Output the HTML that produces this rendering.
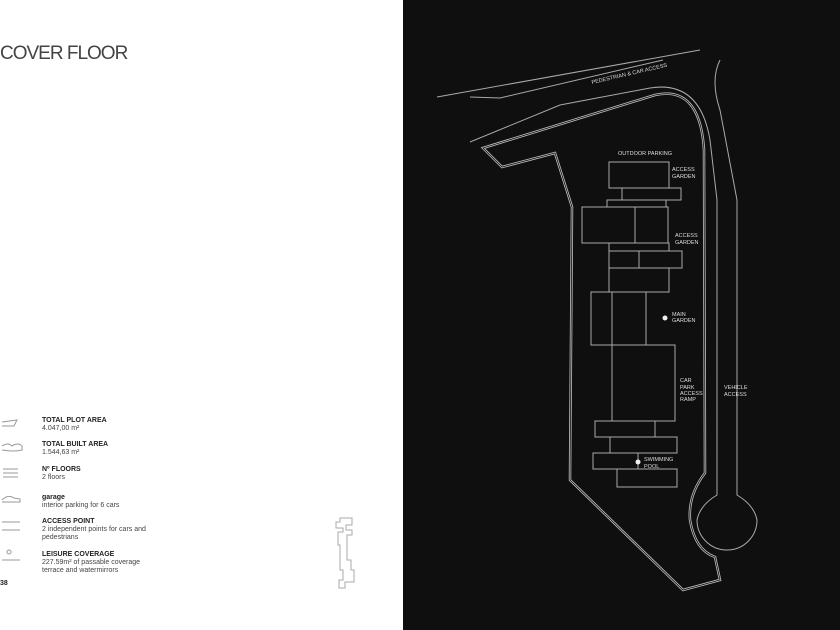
<!DOCTYPE html>
<html><head><meta charset="utf-8"><style>
html,body{margin:0;padding:0;background:#fff;}
body{width:840px;height:630px;position:relative;overflow:hidden;font-family:"Liberation Sans",sans-serif;}
.t{position:absolute;left:0;top:43px;font-size:19px;color:#444;letter-spacing:-1px;}
.it{position:absolute;left:42px;font-size:7px;color:#444;line-height:8px;}
.it b{display:block;font-size:7px;color:#222;}
</style></head><body>
<div class="t">COVER FLOOR</div>
<div class="it" style="top:417px"><b>TOTAL PLOT AREA</b>4.047,00 m²</div>
<div class="it" style="top:441px"><b>TOTAL BUILT AREA</b>1.544,63 m²</div>
<div class="it" style="top:466px"><b>Nº FLOORS</b>2 floors</div>
<div class="it" style="top:494px"><b>garage</b>interior parking for 6 cars</div>
<div class="it" style="top:518px"><b>ACCESS POINT</b>2 independent points for cars and<br>pedestrians</div>
<div class="it" style="top:551px"><b>LEISURE COVERAGE</b>227.59m² of passable coverage<br>terrace and watermirrors</div>
<div style="position:absolute;left:0;top:580px;font-size:7px;font-weight:bold;color:#222">38</div>
<svg width="840" height="630" style="position:absolute;left:0;top:0" xmlns="http://www.w3.org/2000/svg">
<g fill="none" stroke="#999" stroke-width="1">
<path d="M2 422 L17 420 L14 426 L2 426"/>
<path d="M2 446 Q8 442 12 446 Q18 442 22 446 L22 450 Q14 452 2 450"/>
<path d="M3 469 H18 M3 473 H18 M3 477 H18"/>
<path d="M2 500 Q8 494 14 498 L20 499 L20 502 L2 502"/>
<path d="M2 522 H20 M2 530 H20"/>
<circle cx="9" cy="552" r="2"/><path d="M2 560 H20"/>
<path d="M340 518 H352 V525 H346 V530 H352 V535 H347 V560 H351 V570 H354 V582 H345 V588 H339 V580 H343 V570 H340 V545 H338 V532 H343 V528 H336 V522 H340 Z" stroke="#aaa"/>
</g>
<rect x="403" y="0" width="437" height="630" fill="#0f0f0f"/>
<g fill="none" stroke="#aaa" stroke-width="1">
<path d="M437 97 L700 50"/>
<path d="M470 97 L500 98 L663 60"/>
<path d="M470 142 L560 105 L650 88 Q700 80 710 140 L717 200 L717 495 Q700 505 697 520 A30 30 0 0 0 757 520 Q754 505 737 495 L737 200 L720 110 Q710 80 720 60"/>
</g>
<path d="M483 148 L655 95 Q700 85 704 150 L705 473 Q688 495 690 520 Q695 550 715 557 L720 580 L683 590 L570 480 L572 207 L555 153 L502 167 Z" fill="none" stroke="#bbb" stroke-width="2.5"/>
<path d="M483 148 L655 95 Q700 85 704 150 L705 473 Q688 495 690 520 Q695 550 715 557 L720 580 L683 590 L570 480 L572 207 L555 153 L502 167 Z" fill="none" stroke="#0f0f0f" stroke-width="0.8"/>
<g fill="none" stroke="#aaa" stroke-width="1">
<rect x="609" y="162" width="60" height="26"/>
<rect x="622" y="188" width="59" height="12"/>
<rect x="607" y="200" width="59" height="7"/>
<rect x="582" y="207" width="86" height="36"/><path d="M635 207 V243"/>
<rect x="609" y="243" width="60" height="8"/>
<rect x="609" y="251" width="73" height="17"/><path d="M639 251 V268"/>
<rect x="609" y="268" width="60" height="24"/>
<rect x="591" y="292" width="55" height="53"/><path d="M612 292 V345"/>
<rect x="612" y="345" width="63" height="76"/>
<rect x="595" y="421" width="60" height="16"/>
<rect x="610" y="437" width="67" height="16"/>
<rect x="593" y="453" width="45" height="16"/>
<rect x="617" y="469" width="60" height="18"/>
</g>
<circle cx="665" cy="318" r="2.5" fill="#eee"/>
<circle cx="638" cy="462" r="2.5" fill="#eee"/>
<g fill="#ddd" font-family="Liberation Sans,sans-serif" font-size="5.5">
<text x="592" y="84" transform="rotate(-13 592 84)">PEDESTRIAN &amp; CAR ACCESS</text>
<text x="618" y="155">OUTDOOR PARKING</text>
<text x="672" y="171">ACCESS</text><text x="672" y="178">GARDEN</text>
<text x="675" y="237">ACCESS</text><text x="675" y="244">GARDEN</text>
<text x="672" y="316">MAIN</text><text x="672" y="322">GARDEN</text>
<text x="680" y="382">CAR</text><text x="680" y="389">PARK</text><text x="680" y="395">ACCESS</text><text x="680" y="401">RAMP</text>
<text x="724" y="389">VEHICLE</text><text x="724" y="396">ACCESS</text>
<text x="644" y="461">SWIMMING</text><text x="644" y="468">POOL</text>
</g>
</svg>
</body></html>
